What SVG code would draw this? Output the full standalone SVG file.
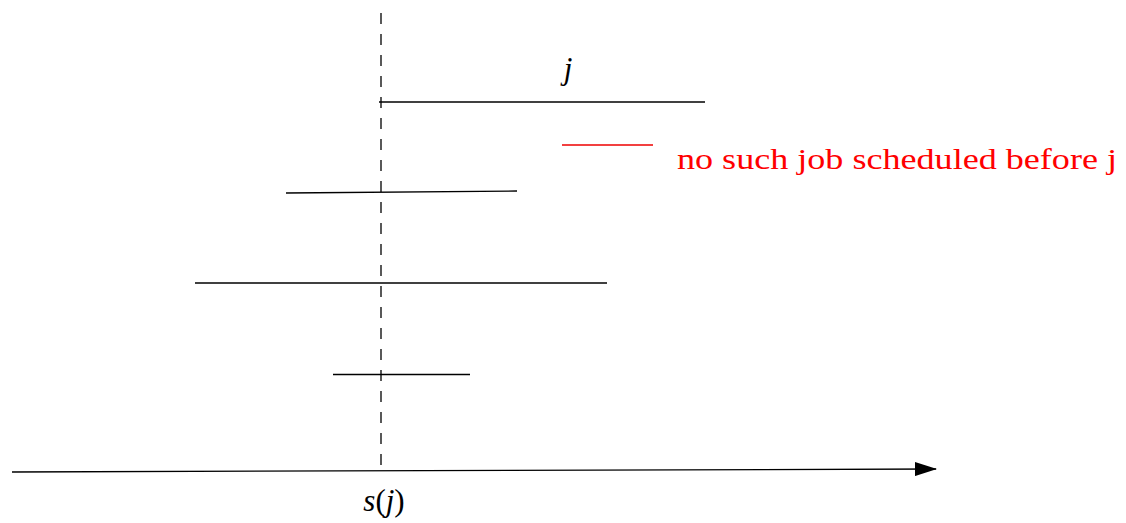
<svg xmlns="http://www.w3.org/2000/svg" width="1126" height="523" viewBox="0 0 1126 523">
<style>
.ln{stroke:#000;stroke-width:1.3;fill:none}
.tx{font-family:"Liberation Serif","Times New Roman",Times,"Nimbus Roman",serif;font-size:31px;fill:#000}
.rd{font-family:"Liberation Serif","Times New Roman",Times,"Nimbus Roman",serif;font-size:30px;fill:#f00}
</style>
<defs>
<marker id="ah" markerWidth="22" markerHeight="14" refX="21" refY="7" orient="auto" markerUnits="userSpaceOnUse">
<path d="M0,0 L22,7 L0,14 Z" fill="#000"/>
</marker>
</defs>
<rect width="1126" height="523" fill="#fff"/>
<g id="connectors">
<line id="axis" class="ln" x1="12" y1="472" x2="936" y2="469" marker-end="url(#ah)"/>
<line id="sj-line" class="ln" x1="381" y1="13" x2="381" y2="472" stroke-dasharray="11 10" stroke-width="1.1"/>
</g>
<g id="job-j">
<line class="ln" x1="379" y1="102" x2="705" y2="102"/>
<text class="tx" x="568" y="79" text-anchor="middle" font-style="italic">j</text>
</g>
<g id="no-such-job">
<line x1="562" y1="145" x2="653" y2="145" stroke="#e00" stroke-width="1.3"/>
<text class="rd" x="677" y="169" textLength="440" lengthAdjust="spacingAndGlyphs">no such job scheduled before j</text>
</g>
<g id="job-2"><line class="ln" x1="286" y1="193" x2="517" y2="191"/></g>
<g id="job-3"><line class="ln" x1="195" y1="283" x2="607" y2="283"/></g>
<g id="job-4"><line class="ln" x1="333" y1="374.5" x2="470" y2="374.5"/></g>
<g id="label-sj">
<text class="tx" x="384" y="511" text-anchor="middle"><tspan font-style="italic">s</tspan>(<tspan font-style="italic">j</tspan>)</text>
</g>
</svg>
